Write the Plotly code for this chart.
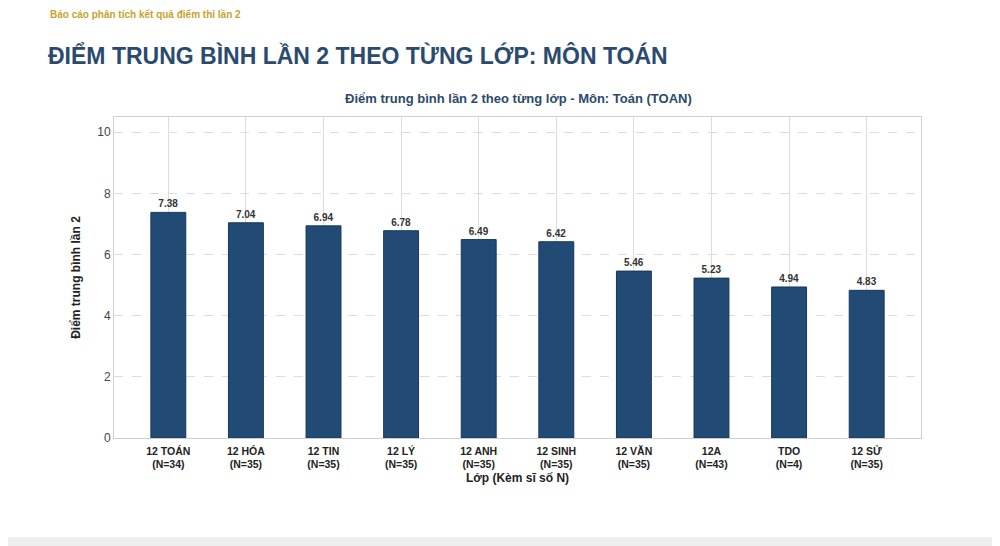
import plotly.graph_objects as go

# Class names (with class size) and the average math score of round 2
classes = ["12 TOÁN", "12 HÓA", "12 TIN", "12 LÝ", "12 ANH", "12 SINH", "12 VĂN", "12A", "TDO", "12 SỬ"]
sizes = [34, 35, 35, 35, 35, 35, 35, 43, 4, 35]
scores = [7.38, 7.04, 6.94, 6.78, 6.49, 6.42, 5.46, 5.23, 4.94, 4.83]
y_ticks = [0, 2, 4, 6, 8, 10]

labels = [f"<b>{c}<br>(N={n})</b>" for c, n in zip(classes, sizes)]

FONT = "Liberation Sans, Arial, sans-serif"
NAVY = "#214b75"

# page has an 8px body margin, so positions are shifted back by that much
OFF = 8
PX0, PX1, PY0, PY1 = 114 - OFF, 921 - OFF, 117 - OFF, 438 - OFF
PW, PH = PX1 - PX0, PY1 - PY0


def px(x):
    return (x - OFF - PX0) / PW


def py(y):
    return (PY1 - (y - OFF)) / PH


fig = go.Figure()
fig.add_trace(go.Bar(
    x=labels, y=scores, width=0.45,
    marker=dict(color=NAVY, line=dict(color="#17385a", width=1)),
    text=[f"<b>{s:.2f}</b>" for s in scores],
    textposition="outside", textfont=dict(size=10, color="#333333", family=FONT),
    cliponaxis=False,
))

fig.update_layout(
    width=1000, height=546,
    margin=dict(l=PX0, r=1000 - PX1, t=PY0, b=546 - PY1),
    paper_bgcolor="white", plot_bgcolor="white",
    font=dict(family=FONT, color="#333333"),
    showlegend=False,
    title=dict(text="<b>ĐIỂM TRUNG BÌNH LẦN 2 THEO TỪNG LỚP: MÔN TOÁN</b>",
               x=(48 - OFF) / 1000, xanchor="left", y=1 - (56 - OFF) / 546, yanchor="middle",
               xref="container", yref="container",
               font=dict(size=23, color="#2a4b6f", family=FONT)),
)

fig.update_xaxes(
    range=[-0.7, 9.7], showgrid=True, gridcolor="#dcdcdc", gridwidth=1,
    showline=True, mirror=True, linecolor="#cfcfcf", linewidth=1,
    tickfont=dict(size=10.5, color="#222222"), ticks="", ticklabelstandoff=3,
    title=dict(text="<b>Lớp (Kèm sĩ số N)</b>", font=dict(size=12, color="#222222"), standoff=4),
)
fig.update_yaxes(
    range=[0, 10.5], tickvals=y_ticks, showgrid=True, gridcolor="#dcdcdc",
    griddash="dash", zeroline=False,
    showline=True, mirror=True, linecolor="#cfcfcf", linewidth=1,
    tickfont=dict(size=12, color="#444444"), ticks="",
    title=dict(text="<b>Điểm trung bình lần 2</b>", font=dict(size=12, color="#222222"), standoff=14),
)

# small report header and chart title
fig.add_annotation(text="<b>Báo cáo phân tích kết quả điểm thi lần 2</b>",
                   xref="paper", yref="paper", x=px(48), y=py(14),
                   xanchor="left", yanchor="middle", showarrow=False,
                   font=dict(size=10, color="#c9a12e", family=FONT))
fig.add_annotation(text="<b>Điểm trung bình lần 2 theo từng lớp - Môn: Toán (TOAN)</b>",
                   xref="paper", yref="paper", x=px(518), y=py(98),
                   xanchor="center", yanchor="middle", showarrow=False,
                   font=dict(size=13, color="#2b4a6b", family=FONT))

# light gray page edges at the bottom and right
fig.add_shape(type="rect", xref="paper", yref="paper",
              x0=px(-10), x1=px(1010), y0=py(560), y1=py(537),
              fillcolor="#eeeeee", line=dict(width=0), layer="below")
fig.add_shape(type="rect", xref="paper", yref="paper",
              x0=px(995), x1=px(1010), y0=py(560), y1=py(0),
              fillcolor="#eeeeee", line=dict(width=0), layer="below")

fig.write_html("out.html")
